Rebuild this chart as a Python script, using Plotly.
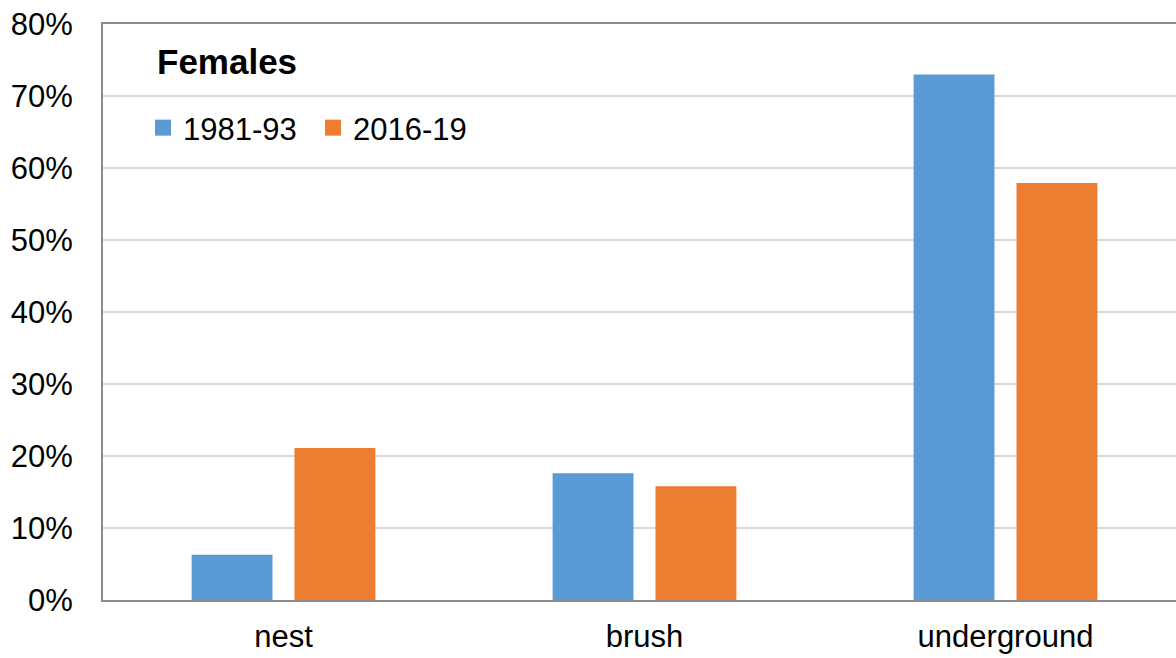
import plotly.graph_objects as go

categories = ["nest", "brush", "underground"]
series_names = ["1981-93", "2016-19"]
values_1981_93 = [6.3, 17.6, 73.0]
values_2016_19 = [21.1, 15.8, 57.9]
y_ticks = [0, 10, 20, 30, 40, 50, 60, 70, 80]
y_ticklabels = [f"{t}%" for t in y_ticks]

colors = ["#5B9BD5", "#ED7D31"]
font = "Arial, Liberation Sans, sans-serif"

fig = go.Figure()
for name, vals, col in zip(series_names, [values_1981_93, values_2016_19], colors):
    fig.add_trace(go.Bar(
        x=categories, y=vals, name=name, legendgroup=name, showlegend=False,
        marker=dict(color=col, line=dict(width=0)),
    ))
    # legend-only entry with a larger square swatch
    fig.add_trace(go.Scatter(
        x=[None], y=[None], name=name, legendgroup=name, mode="markers",
        marker=dict(symbol="square", size=16, color=col), showlegend=True,
    ))

fig.update_layout(
    width=1176, height=658,
    margin=dict(l=103, r=0, t=24, b=58),
    paper_bgcolor="white", plot_bgcolor="white",
    barmode="group", bargap=0.43, bargroupgap=0.214,
    font=dict(family=font, size=31, color="#000000"),
    showlegend=True,
    legend=dict(
        orientation="h", x=(143 - 103) / 1073, y=(600 - 128) / 576,
        xanchor="left", yanchor="middle",
        font=dict(size=31, family=font), bgcolor="rgba(0,0,0,0)",
        entrywidth=125, entrywidthmode="pixels",
        itemclick=False,
    ),
    annotations=[dict(
        text="<b>Females</b>", x=(155 - 103) / 1073, y=(600 - 62) / 576,
        xref="paper", yref="paper",
        showarrow=False, font=dict(size=35, family=font),
        xanchor="left", yanchor="middle",
    )],
)

fig.update_xaxes(
    range=[-0.5, -0.5 + 1073 / 361],
    showline=True, linecolor="#8C8C8C", linewidth=2, mirror=True,
    showgrid=False, ticks="", tickfont=dict(size=31, family=font),
    ticklabelstandoff=8, fixedrange=True,
)
fig.update_yaxes(
    range=[0, 80], tickvals=y_ticks, ticktext=y_ticklabels,
    showline=True, linecolor="#8C8C8C", linewidth=2,
    showgrid=True, gridcolor="#D9D9D9", gridwidth=2,
    zeroline=False, ticks="", ticklabelstandoff=22,
    tickfont=dict(size=31, family=font), fixedrange=True,
)

fig.write_html("out.html")
